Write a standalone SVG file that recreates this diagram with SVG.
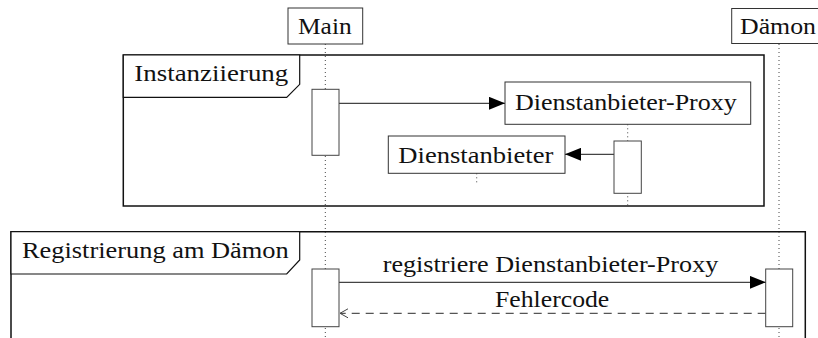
<svg xmlns="http://www.w3.org/2000/svg" width="818" height="338" viewBox="0 0 818 338" font-family="Liberation Serif, DejaVu Serif, serif">
  <style>
    text { font-size: 23px; fill: #111; }
    .box { fill: #fff; stroke: #333; stroke-width: 1; }
    .act { fill: #fff; stroke: #444; stroke-width: 1; }
    .frame { fill: none; stroke: #111; stroke-width: 1.5; }
    .tab { fill: #fff; stroke: #111; stroke-width: 1.2; }
    .life { fill: none; stroke: #444; stroke-width: 1; stroke-dasharray: 1 3; }
    .msg { fill: none; stroke: #444; stroke-width: 1.2; }
    .ret { fill: none; stroke: #555; stroke-width: 1.2; stroke-dasharray: 8 6; }
  </style>
  <defs>
    <marker id="filled" viewBox="0 0 16 13" refX="16" refY="6.5" markerWidth="16" markerHeight="13" markerUnits="userSpaceOnUse" orient="auto">
      <path d="M0,0 L16,6.5 L0,13 Z" fill="#000"/>
    </marker>
  </defs>

  <rect width="818" height="338" fill="#fff"/>

  <!-- combined fragments -->
  <g id="frame-instanziierung">
    <rect class="frame" x="123.3" y="55" width="640.7" height="151"/>
    <path class="tab" d="M123.3,55 H299.7 V84.3 L286.7,97.3 H123.3 Z"/>
    <text x="134.3" y="81" font-family="Liberation Serif" textLength="154" lengthAdjust="spacingAndGlyphs">Instanziierung</text>
  </g>
  <g id="frame-registrierung">
    <path class="frame" d="M11,345 V231.7 H805.3 V345"/>
    <path class="tab" d="M11,231.7 H299.7 V260 L286.7,274 H11 Z"/>
    <text x="22" y="257.7" font-family="Liberation Serif" textLength="266.7" lengthAdjust="spacingAndGlyphs">Registrierung am Dämon</text>
  </g>

  <!-- lifelines -->
  <g id="lifelines">
    <line class="life" x1="325.3" y1="44" x2="325.3" y2="338"/>
    <line class="life" x1="779" y1="44" x2="779" y2="338"/>
    <line class="life" x1="627.7" y1="124.3" x2="627.7" y2="208"/>
    <line class="life" x1="476.7" y1="173.3" x2="476.7" y2="184"/>
  </g>

  <!-- participants -->
  <g id="main">
    <rect class="box" x="288" y="8" width="74.7" height="36"/>
    <text x="298" y="34" font-family="Liberation Serif" textLength="53.7" lengthAdjust="spacingAndGlyphs">Main</text>
    <rect class="act" x="312" y="89.3" width="27" height="66"/>
    <rect class="act" x="312" y="269" width="27" height="57.7"/>
  </g>
  <g id="daemon">
    <rect class="box" x="731.7" y="8.5" width="95" height="35"/>
    <text x="740" y="34.3" font-family="Liberation Serif" textLength="76" lengthAdjust="spacingAndGlyphs">Dämon</text>
    <rect class="act" x="765.7" y="269" width="27" height="57.7"/>
  </g>
  <g id="proxy">
    <rect class="box" x="505" y="82" width="245.7" height="42.3"/>
    <text x="515" y="110" font-family="Liberation Serif" textLength="221.7" lengthAdjust="spacingAndGlyphs">Dienstanbieter-Proxy</text>
    <rect class="act" x="614" y="141" width="27.3" height="52.3"/>
  </g>
  <g id="dienstanbieter">
    <rect class="box" x="388.3" y="136" width="176.7" height="37.3"/>
    <text x="398.3" y="162.7" font-family="Liberation Serif" textLength="155" lengthAdjust="spacingAndGlyphs">Dienstanbieter</text>
  </g>

  <!-- messages -->
  <g id="connectors">
    <line class="msg" x1="339" y1="103.3" x2="505" y2="103.3" marker-end="url(#filled)"/>
    <line class="msg" x1="614" y1="154.3" x2="565" y2="154.3" marker-end="url(#filled)"/>
    <line class="msg" x1="339" y1="282.3" x2="765.7" y2="282.3" marker-end="url(#filled)"/>
    <text x="382.7" y="271.7" font-family="Liberation Serif" textLength="335.6" lengthAdjust="spacingAndGlyphs">registriere Dienstanbieter-Proxy</text>
    <line class="ret" x1="765.7" y1="313.3" x2="340" y2="313.3"/>
    <path d="M348,308.8 L340,313.3 L348,317.8" fill="none" stroke="#444" stroke-width="1"/>
    <text x="495" y="307.3" font-family="Liberation Serif" textLength="114.3" lengthAdjust="spacingAndGlyphs">Fehlercode</text>
  </g>
</svg>
